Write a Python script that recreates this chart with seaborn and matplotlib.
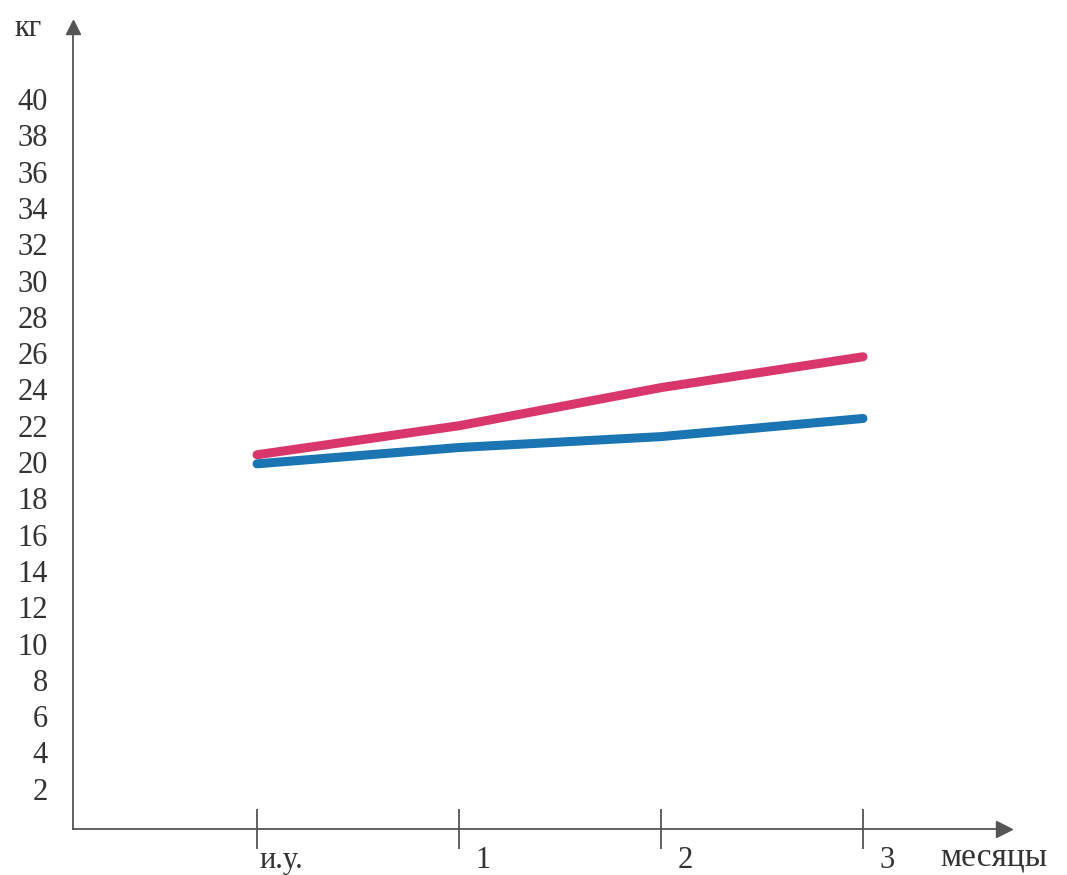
import matplotlib
matplotlib.use("Agg")
import matplotlib.pyplot as plt
from matplotlib.transforms import ScaledTranslation
import seaborn as sns
import pandas as pd

# ========== DATA ==========
months = [0, 1, 2, 3]
month_labels = ["и.у.", "1", "2", "3"]
weight_red = [20.4, 22.0, 24.1, 25.8]
weight_blue = [19.9, 20.8, 21.4, 22.4]
y_ticks = list(range(2, 42, 2))

df = pd.concat([
    pd.DataFrame({"month": months, "kg": weight_red, "group": "red"}),
    pd.DataFrame({"month": months, "kg": weight_blue, "group": "blue"}),
])

# ========== STYLE ==========
sns.set_style("white")
plt.rcParams["font.family"] = ["Liberation Serif", "DejaVu Serif"]
text_col = "#333333"
axis_col = "#555555"

fig = plt.figure(figsize=(10.67, 8.75), dpi=100)
ax = fig.add_axes([73 / 1067, 46 / 875, (1004 - 73) / 1067, (829 - 27) / 875])

sns.lineplot(data=df, x="month", y="kg", hue="group",
             palette={"red": "#d9376b", "blue": "#1b75b3"},
             linewidth=6.5, legend=False, ax=ax,
             solid_capstyle="round", solid_joinstyle="round")

ax.set_xlim(-0.911, 3.698)
ax.set_ylim(-0.22, 43.97)

# axes as arrows
for s in ["top", "right"]:
    ax.spines[s].set_visible(False)
for s in ["left", "bottom"]:
    ax.spines[s].set_color(axis_col)
    ax.spines[s].set_linewidth(1.3)
ax.plot(1, 0, marker=">", color=axis_col, markersize=11,
        transform=ax.transAxes, clip_on=False)
ax.plot(0, 1, marker="^", color=axis_col, markersize=10,
        transform=ax.transAxes, clip_on=False)

# ticks
ax.set_yticks(y_ticks)
ax.set_yticklabels([str(v) for v in y_ticks])
ax.tick_params(axis="y", left=False, length=0, pad=18, labelsize=22, labelcolor=text_col)
ax.set_xticks(months)
ax.set_xticklabels(month_labels)
ax.tick_params(axis="x", bottom=True, direction="inout", length=29, width=1.3,
               color=axis_col, pad=-2, labelsize=22, labelcolor=text_col)
for lbl in ax.get_xticklabels():
    lbl.set_transform(lbl.get_transform() + ScaledTranslation(0.24, 0, fig.dpi_scale_trans))

ax.set_xlabel("")
ax.set_ylabel("")

# axis captions
fig.text(28 / 1067, 1 - 28 / 875, "кг", fontsize=22, color=text_col,
         ha="center", va="center")
fig.text(940 / 1067, 1 - 865 / 875, "месяцы", fontsize=24, color=text_col,
         ha="left", va="baseline")

fig.savefig("out.png", dpi=100)
